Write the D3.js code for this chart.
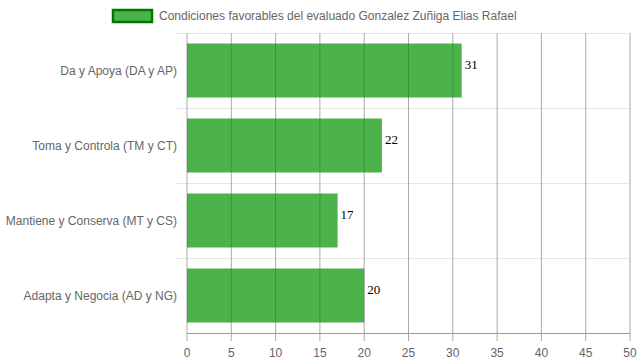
<!DOCTYPE html>
<html><head><meta charset="utf-8">
<script src="https://cdn.jsdelivr.net/npm/d3@7"></script>
<style>body{margin:0;background:#fff}svg{display:block}</style>
</head><body>
<script>
const categories = ["Da y Apoya (DA y AP)", "Toma y Controla (TM y CT)", "Mantiene y Conserva (MT y CS)", "Adapta y Negocia (AD y NG)"];
const values = [31, 22, 17, 20];
const xTicks = [0, 5, 10, 15, 20, 25, 30, 35, 40, 45, 50];
const seriesName = "Condiciones favorables del evaluado Gonzalez Zuñiga Elias Rafael";

const W = 639, H = 360;
const m = {left: 187, right: 9, top: 33, bottom: 27};
const svg = d3.select("body").append("svg").attr("width", W).attr("height", H);
const font = "'Liberation Sans', Arial, sans-serif";

const x = d3.scaleLinear().domain([0, 50]).range([m.left, W - m.right]);
const y = d3.scaleBand().domain(categories).range([m.top, H - m.bottom]).paddingInner(0.28).paddingOuter(0.14);
const step = y.step();

// horizontal category lines
const hl = d3.range(categories.length + 1).map(i => m.top + i * step);
svg.append("g").selectAll("line").data(hl.slice(0, -1)).join("line")
  .attr("x1", m.left - 11).attr("x2", W - m.right)
  .attr("y1", d => Math.round(d) + 0.5).attr("y2", d => Math.round(d) + 0.5)
  .attr("stroke", "#e6e6e6").attr("stroke-width", 1);

// vertical grid
svg.append("g").selectAll("line").data(xTicks).join("line")
  .attr("x1", d => x(d)).attr("x2", d => x(d))
  .attr("y1", m.top).attr("y2", H - m.bottom + 8)
  .attr("stroke", "#aaa").attr("stroke-width", 1);

// bottom axis line
svg.append("line").attr("x1", m.left).attr("x2", W - m.right)
  .attr("y1", H - m.bottom + 0.5).attr("y2", H - m.bottom + 0.5)
  .attr("stroke", "#999").attr("stroke-width", 1);

// bars
svg.append("g").selectAll("rect").data(values).join("rect")
  .attr("x", x(0)).attr("y", (d, i) => y(categories[i]))
  .attr("width", d => x(d) - x(0)).attr("height", y.bandwidth())
  .attr("fill", "rgb(0,146,0)").attr("fill-opacity", 0.7);

// value labels
svg.append("g").selectAll("text").data(values).join("text")
  .attr("x", d => x(d) + 3).attr("y", (d, i) => y(categories[i]) + y.bandwidth() / 2 - 6)
  .attr("dy", "0.35em").attr("font-family", "'Liberation Serif', 'Times New Roman', serif")
  .attr("font-size", 13).attr("fill", "#000").text(d => d);

// x tick labels
svg.append("g").selectAll("text").data(xTicks).join("text")
  .attr("x", d => x(d)).attr("y", H - m.bottom + 15).attr("dy", "0.71em")
  .attr("text-anchor", "middle").attr("font-family", font).attr("font-size", 12)
  .attr("fill", "#666").text(d => d);

// category labels
svg.append("g").selectAll("text").data(categories).join("text")
  .attr("x", m.left - 10).attr("y", d => y(d) + y.bandwidth() / 2).attr("dy", "0.35em")
  .attr("text-anchor", "end").attr("font-family", font).attr("font-size", 12)
  .attr("fill", "#666").text(d => d);

// legend
const lg = svg.append("g");
lg.append("rect").attr("x", 113).attr("y", 10).attr("width", 39).attr("height", 12)
  .attr("fill", "rgb(0,146,0)").attr("fill-opacity", 0.7)
  .attr("stroke", "rgb(0,120,0)").attr("stroke-width", 2.5);
lg.append("text").attr("x", 159).attr("y", 16).attr("dy", "0.35em")
  .attr("font-family", font).attr("font-size", 12).attr("fill", "#666").text(seriesName);
</script>
</body></html>
